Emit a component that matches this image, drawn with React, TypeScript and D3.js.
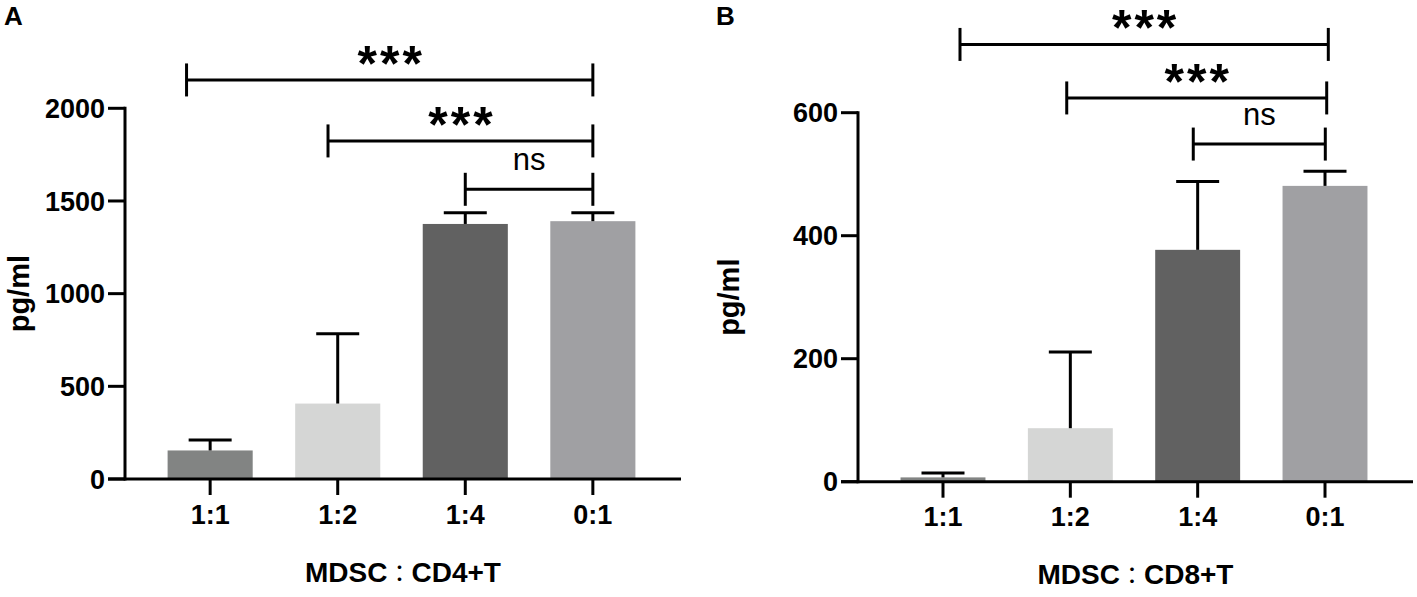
import React from 'react';
import * as d3 from 'd3';

// ---- data ----
const categories = ['1:1', '1:2', '1:4', '0:1'];
const cd4Means = [154, 407, 1376, 1391];
const cd4Errors = [57, 376, 61, 46];
const cd8Means = [7, 87, 377, 481];
const cd8Errors = [7, 124, 111, 24];
const cd4Ticks = [0, 500, 1000, 1500, 2000];
const cd8Ticks = [0, 200, 400, 600];
const barColors = ['#828483', '#d5d6d5', '#616161', '#a0a0a3'];
const cd4Comparisons = [
  { from: '1:1', to: '0:1', label: '***', level: 2153 },
  { from: '1:2', to: '0:1', label: '***', level: 1824 },
  { from: '1:4', to: '0:1', label: 'ns', level: 1563 },
];
const cd8Comparisons = [
  { from: '1:1', to: '0:1', label: '***', level: 711 },
  { from: '1:2', to: '0:1', label: '***', level: 624 },
  { from: '1:4', to: '0:1', label: 'ns', level: 549 },
];
const titleParts = [['MDSC', '：', 'CD4+T'], ['MDSC', '：', 'CD8+T']];

// ---- layout ----
const FONT = '"Liberation Sans", Arial, Helvetica, sans-serif';
const TITLE_FONT = '"Liberation Sans", "Noto Sans CJK TC", "Noto Sans CJK JP", sans-serif';
const panels = [
  {
    letter: 'A', letterX: 4, means: cd4Means, errors: cd4Errors, ticks: cd4Ticks, yMax: 2000,
    comps: cd4Comparisons, xRange: [125, 678], yRange: [479, 108.3], title: titleParts[0],
    yTitleX: 29, titleBaseline: 581.5, catBaseline: 523.5,
    nudges: [[-23.6, 0], [-9.7, 0], [0, 0]],
  },
  {
    letter: 'B', letterX: 716, means: cd8Means, errors: cd8Errors, ticks: cd8Ticks, yMax: 600,
    comps: cd8Comparisons, xRange: [858, 1410], yRange: [481.7, 112.7], title: titleParts[1],
    yTitleX: 739, titleBaseline: 584, catBaseline: 526,
    nudges: [[17, 3.3], [-3.6, 1.7], [-4.4, 0.3]],
  },
];

const SW = 3;
const Y_TICK = 17;
const X_TICK = 15;
const CAP = 43;
const BRACKET_END = 16.5;

function Panel({ p }: { p: any }) {
  const x = d3.scaleBand<string>().domain(categories).range(p.xRange as [number, number])
    .paddingInner(0.333).paddingOuter(0.334);
  const y = d3.scaleLinear().domain([0, p.yMax]).range(p.yRange as [number, number]);
  const axisX = p.xRange[0];
  const y0 = y(0);
  const bw = x.bandwidth();
  const cx = (c: string) => (x(c) as number) + bw / 2;
  const xEnd = p.xRange[1] + 3;
  const yMid = (y(0) + y(p.yMax)) / 2;
  return (
    <g>
      <text x={p.letterX} y={25} fontFamily={FONT} fontWeight="bold" fontSize={26}>{p.letter}</text>
      {/* bars */}
      {categories.map((c, i) => (
        <rect key={c} x={x(c)} y={y(p.means[i])} width={bw} height={y0 - y(p.means[i])} fill={barColors[i]} />
      ))}
      {/* error bars */}
      {categories.map((c, i) => {
        const top = y(p.means[i] + p.errors[i]);
        return (
          <g key={c} stroke="#000" strokeWidth={SW}>
            <line x1={cx(c)} x2={cx(c)} y1={y(p.means[i])} y2={top} />
            <line x1={cx(c) - CAP / 2} x2={cx(c) + CAP / 2} y1={top} y2={top} />
          </g>
        );
      })}
      {/* y axis */}
      <line x1={axisX} x2={axisX} y1={y(p.yMax) - 1.5} y2={y0 + 1.5} stroke="#000" strokeWidth={SW} />
      {p.ticks.map((t: number) => (
        <g key={t}>
          <line x1={axisX - Y_TICK} x2={axisX} y1={y(t)} y2={y(t)} stroke="#000" strokeWidth={SW} />
          <text x={axisX - Y_TICK - 3} y={y(t)} dy="0.36em" textAnchor="end" fontFamily={FONT}
            fontWeight="bold" fontSize={27}>{t}</text>
        </g>
      ))}
      {/* x axis */}
      <line x1={axisX - Y_TICK} x2={xEnd} y1={y0} y2={y0} stroke="#000" strokeWidth={SW} />
      {categories.map((c) => (
        <g key={c}>
          <line x1={cx(c)} x2={cx(c)} y1={y0} y2={y0 + X_TICK + 1} stroke="#000" strokeWidth={SW} />
          <text x={cx(c)} y={p.catBaseline} textAnchor="middle" fontFamily={FONT} fontWeight="bold"
            fontSize={27}>{c}</text>
        </g>
      ))}
      <text x={(axisX + xEnd) / 2} y={p.titleBaseline} textAnchor="middle" fontFamily={TITLE_FONT}
        fontWeight="bold" fontSize={28}>
        <tspan>{p.title[0]}</tspan>
        <tspan fontWeight="normal" fontSize={24}>{p.title[1]}</tspan>
        <tspan>{p.title[2]}</tspan>
      </text>
      <text transform={`translate(${p.yTitleX},${yMid}) rotate(-90)`} textAnchor="middle" fontFamily={FONT}
        fontWeight="bold" fontSize={29}>pg/ml</text>
      {/* comparisons */}
      {p.comps.map((cmp: any, i: number) => {
        const x1 = cx(cmp.from) + p.nudges[i][0];
        const x2 = cx(cmp.to) + p.nudges[i][1];
        const by = y(cmp.level);
        const mid = (x1 + x2) / 2;
        const stars = cmp.label === '***';
        return (
          <g key={i}>
            <g stroke="#000" strokeWidth={SW}>
              <line x1={x1} x2={x2} y1={by} y2={by} />
              <line x1={x1} x2={x1} y1={by - BRACKET_END} y2={by + BRACKET_END} />
              <line x1={x2} x2={x2} y1={by - BRACKET_END} y2={by + BRACKET_END} />
            </g>
            {stars ? (
              <text x={mid + 1.5} y={by - 28} dy="0.58em" textAnchor="middle" fontFamily={FONT}
                fontWeight="bold" fontSize={50} letterSpacing={3}>{cmp.label}</text>
            ) : (
              <text x={mid} y={by - 19} textAnchor="middle" fontFamily={FONT} fontSize={31}>{cmp.label}</text>
            )}
          </g>
        );
      })}
    </g>
  );
}

export default function App() {
  return (
    <svg width={1417} height={597} style={{ position: 'absolute', left: 0, top: 0, background: '#fff' }}>
      <rect width={1417} height={597} fill="#fff" />
      {panels.map((p) => <Panel key={p.letter} p={p} />)}
    </svg>
  );
}
